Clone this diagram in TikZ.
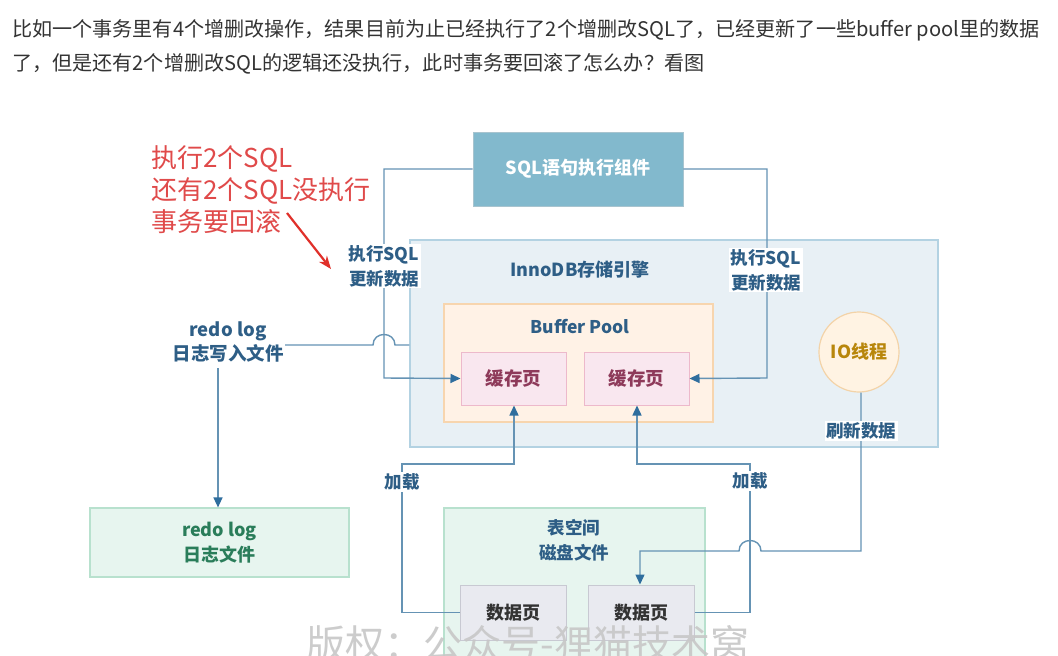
\documentclass[tikz,border=0pt]{standalone}
\usepackage{fontspec}
\setmainfont{Noto Sans CJK SC}
\usetikzlibrary{arrows.meta}
\definecolor{linec}{HTML}{6593B4}
\definecolor{arrowc}{HTML}{2F6E9E}
\definecolor{sqlfill}{HTML}{82B9CD}
\definecolor{innofill}{HTML}{E8F0F5}
\definecolor{innodraw}{HTML}{B3D2E2}
\definecolor{bpfill}{HTML}{FFF2E6}
\definecolor{bpdraw}{HTML}{F7D5AE}
\definecolor{cachefill}{HTML}{F9E7EF}
\definecolor{cachedraw}{HTML}{EDB9CB}
\definecolor{cachetext}{HTML}{8E3A5A}
\definecolor{iofill}{HTML}{FFF3E3}
\definecolor{iodraw}{HTML}{F3D3A8}
\definecolor{iotext}{HTML}{B8860B}
\definecolor{greenfill}{HTML}{E7F5EF}
\definecolor{greendraw}{HTML}{B8E1CE}
\definecolor{greentext}{HTML}{2A7D5A}
\definecolor{datafill}{HTML}{E9EAF0}
\definecolor{datadraw}{HTML}{C8C9D2}
\definecolor{labeltext}{HTML}{2E5E86}
\definecolor{redtext}{HTML}{E04A4A}
\definecolor{redarrow}{HTML}{E0302A}
\definecolor{toptext}{HTML}{333333}
\tikzset{
  conn/.style={draw=linec, line width=1.4pt},
  arr/.style={-{Triangle[length=10pt,width=9pt,color=arrowc]}},
  lbl/.style={text=labeltext, font=\fontsize{17.5}{25}\selectfont\bfseries, align=center, inner sep=1.5pt},
  wlbl/.style={lbl, fill=white},
  pagebox/.style={draw=cachedraw, fill=cachefill, line width=1pt, minimum width=105pt, minimum height=53pt, text=cachetext, font=\fontsize{18.5}{20}\selectfont\bfseries},
  databox/.style={draw=datadraw, fill=datafill, line width=1pt, minimum width=106pt, minimum height=55pt, text=toptext, font=\fontsize{18}{20}\selectfont\bfseries},
}
\begin{document}
\begin{tikzpicture}[x=1pt,y=-1pt]
\useasboundingbox (0,0) rectangle (1058,656);
\clip (0,0) rectangle (1058,656);
\fill[white] (0,0) rectangle (1058,656);
% top text
\node[anchor=west, text=toptext, font=\fontsize{20.1}{22}\selectfont, inner sep=0] (t1) at (12,30) {比如一个事务里有4个增删改操作，结果目前为止已经执行了2个增删改SQL了，已经更新了一些buffer pool里的数据};
\node[anchor=west, text=toptext, font=\fontsize{20.1}{22}\selectfont, inner sep=0] (t2) at (12,64) {了，但是还有2个增删改SQL的逻辑还没执行，此时事务要回滚了怎么办？看图};
% InnoDB box
\node[draw=innodraw, fill=innofill, line width=1.2pt, minimum width=528pt, minimum height=207pt, inner sep=0] (inno) at (674,343.5) {};
\node[lbl, font=\fontsize{18}{25}\selectfont\bfseries] (innol) at (580,270) {InnoDB存储引擎};
% Buffer pool
\node[draw=bpdraw, fill=bpfill, line width=1.2pt, minimum width=269pt, minimum height=118pt, inner sep=0] (bp) at (578.5,363) {};
\node[lbl] (bpl) at (580,327) {Buffer Pool};
\node[pagebox] (c1) at (513.5,378.5) {缓存页};
\node[pagebox] (c2) at (636.5,378.5) {缓存页};
% IO thread
\node[circle, draw=iodraw, fill=iofill, line width=1.2pt, minimum size=80pt, inner sep=0, text=iotext, font=\fontsize{18}{20}\selectfont\bfseries] (io) at (859,352) {IO线程};
% SQL box
\node[draw=sqlfill!85!black!60, fill=sqlfill, line width=0.6pt, minimum width=210pt, minimum height=74pt, text=white, font=\fontsize{18}{20}\selectfont\bfseries] (sql) at (578,169) {SQL语句执行组件};
% redo log file
\node[draw=greendraw, fill=greenfill, line width=1.2pt, minimum width=259pt, minimum height=69pt, text=greentext, font=\fontsize{18}{25}\selectfont\bfseries, align=center] (redof) at (219.5,542.5) {redo log\\日志文件};
% tablespace
\node[draw=greendraw, fill=greenfill, line width=1.2pt, minimum width=261pt, minimum height=170pt, inner sep=0] (ts) at (574.5,593) {};
\node[lbl] (tsl) at (574,540) {表空间\\磁盘文件};
\node[databox] (d1) at (513.5,612.5) {数据页};
\node[databox] (d2) at (641,612.5) {数据页};
% redo log label
\node[lbl, font=\fontsize{18.5}{24}\selectfont\bfseries] (redol) at (228,342) {redo log\\日志写入文件};
% connectors: SQL -> cache pages
\draw[conn, arr] (sql.west) -- (384,169) -- (384,378) -- (c1.west);
\draw[conn, arr] (sql.east) -- (767,169) -- (767,378) -- (c2.east);
\node[wlbl] (lab1) at (384,266) {执行SQL\\更新数据};
\node[wlbl] (lab2) at (766,270) {执行SQL\\更新数据};
% redo log write
\draw[conn] (inno.west |- 0,345) -- (395,345) .. controls (395,331) and (373,331) .. (373,345) -- (redol.east |- 0,345);
\draw[conn, arr] (218,368) -- (redof.north -| 218,0);
% load connectors
\draw[conn, arr] (d1.west) -- (402,612.5) -- (402,464) -- (514,464) -- (c1.south -| 514,0);
\draw[conn, arr] (d2.east) -- (750,612.5) -- (750,464) -- (637,464) -- (c2.south -| 637,0);
\node[wlbl] (load1) at (402,482) {加载};
\node[wlbl] (load2) at (750,481) {加载};
% IO flush
\draw[conn, arr] (io.south -| 861,0) -- (861,551) -- (761,551) .. controls (761,537) and (739,537) .. (739,551) -- (640,551) -- (d2.north -| 640,0);
\node[wlbl] (flush) at (861,431) {刷新数据};
% red annotation
\node[anchor=west, text=redtext, font=\fontsize{26}{32}\selectfont, align=left, inner sep=0] (note) at (151,190) {执行2个SQL\\还有2个SQL没执行\\事务要回滚};
\coordinate (redtip) at (331,269);
\draw[draw=redarrow, line width=2.2pt, -{Stealth[length=13pt,width=10pt]}] (287,213) -- (redtip);
% watermark
\node[text=black!22, font=\fontsize{39}{40}\selectfont, inner sep=0, opacity=0.9] (wm) at (528,644) {版权：公众号-狸猫技术窝};
\end{tikzpicture}
\end{document}
